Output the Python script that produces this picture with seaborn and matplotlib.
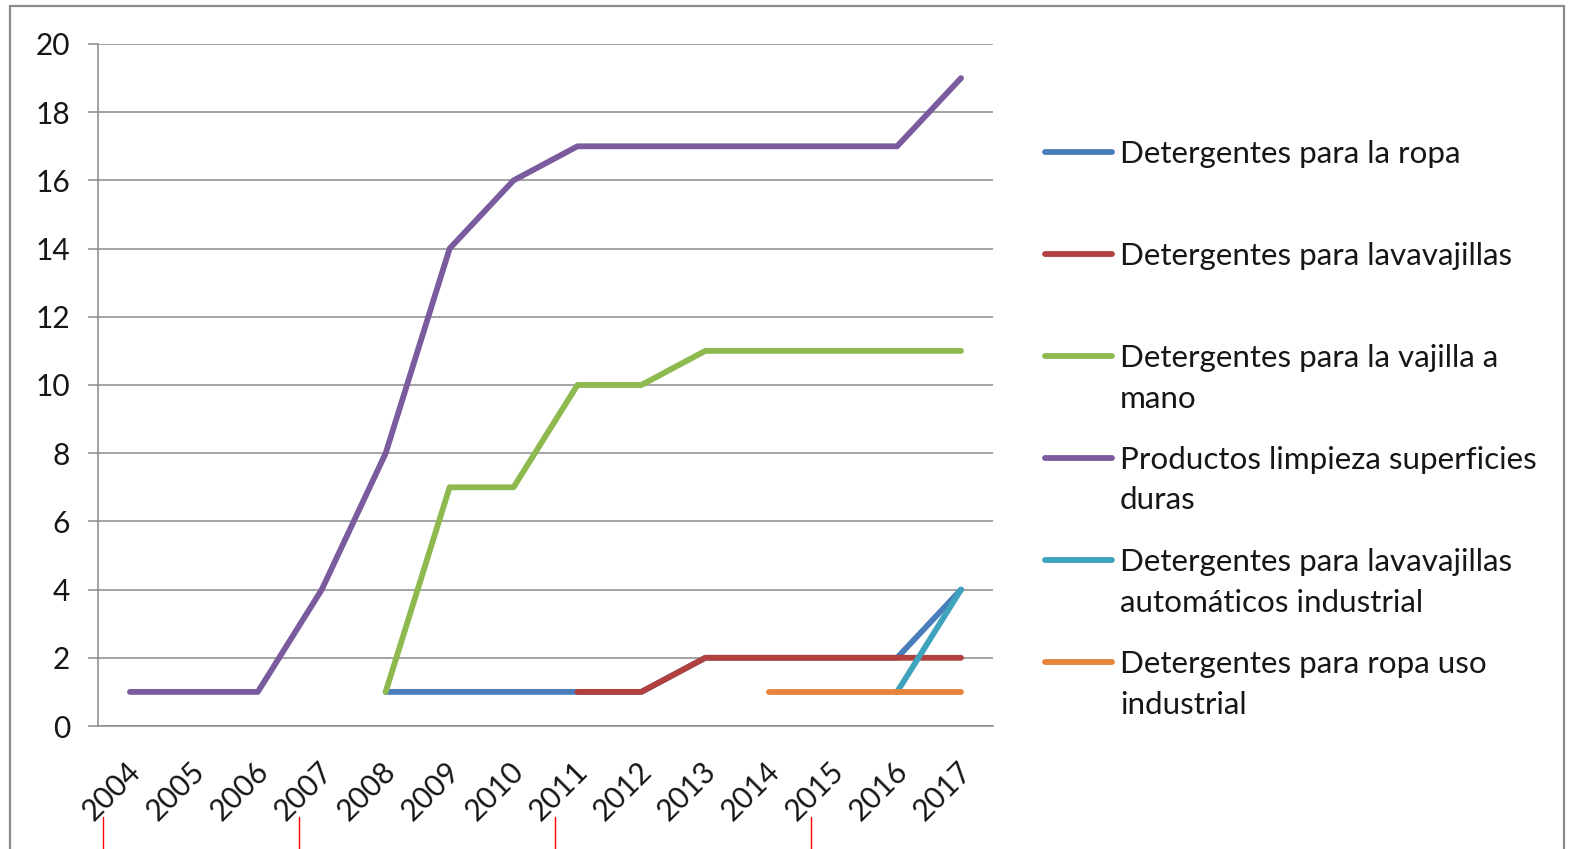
import numpy as np
import pandas as pd
import matplotlib.pyplot as plt
import seaborn as sns
from matplotlib.lines import Line2D
from matplotlib.patches import Rectangle
import matplotlib.transforms as mtransforms

# categories
years = ["2004", "2005", "2006", "2007", "2008", "2009", "2010",
         "2011", "2012", "2013", "2014", "2015", "2016", "2017"]

# series (None = no data that year)
ropa = [None, None, None, None, 1, 1, 1, 1, 1, 2, 2, 2, 2, 4]
lavavajillas = [None, None, None, None, None, None, None, 1, 1, 2, 2, 2, 2, 2]
vajilla_mano = [None, None, None, None, 1, 7, 7, 10, 10, 11, 11, 11, 11, 11]
superficies = [1, 1, 1, 4, 8, 14, 16, 17, 17, 17, 17, 17, 17, 19]
lavav_industrial = [None, None, None, None, None, None, None, None, None, None, None, None, 1, 4]
ropa_industrial = [None, None, None, None, None, None, None, None, None, None, 1, 1, 1, 1]

series_names = [
    "Detergentes para la ropa",
    "Detergentes para lavavajillas",
    "Detergentes para la vajilla a\nmano",
    "Productos limpieza superficies\nduras",
    "Detergentes para lavavajillas\nautomáticos industrial",
    "Detergentes para ropa uso\nindustrial",
]
series_values = [ropa, lavavajillas, vajilla_mano, superficies, lavav_industrial, ropa_industrial]
colors = ["#4A7EBB", "#B0413E", "#8DB94E", "#7A5C9E", "#3FA3BE", "#E5843A"]

rows = []
for name, vals in zip(series_names, series_values):
    for i, v in enumerate(vals):
        if v is not None:
            rows.append({"idx": i, "value": v, "series": name})
df = pd.DataFrame(rows)

sns.set_theme(style="white")
plt.rcParams["font.family"] = ["Lato", "DejaVu Sans"]

W, H = 1575, 849
fig = plt.figure(figsize=(W / 100, H / 100), dpi=100)
ax = fig.add_axes([98 / W, 1 - 726 / H, (993 - 98) / W, (726 - 44) / H])

grid_col = "#8a8a8a"
text_col = "#161616"
ax.set_ylim(0, 20)
ax.set_xlim(-0.5, len(years) - 0.5)
ax.set_yticks(range(0, 21, 2))
ax.yaxis.grid(True, color=grid_col, linewidth=1.1)
ax.set_axisbelow(True)

sns.lineplot(data=df, x="idx", y="value", hue="series", hue_order=series_names,
             palette=colors, linewidth=4.2, legend=False, errorbar=None, sort=False,
             solid_capstyle="round", solid_joinstyle="round", ax=ax)

ax.set_xlabel("")
ax.set_ylabel("")
for s in ["top", "right"]:
    ax.spines[s].set_visible(False)
for s in ["left", "bottom"]:
    ax.spines[s].set_color(grid_col)
    ax.spines[s].set_linewidth(1.1)

ax.set_xticks(range(len(years)))
ax.set_xticklabels(years, rotation=45, ha="right", va="top", rotation_mode="anchor")
ax.set_xticks(np.arange(-0.5, len(years), 1), minor=True)
ax.tick_params(axis="x", which="major", length=0, pad=22, labelsize=21.5, labelcolor=text_col)
ax.tick_params(axis="x", which="minor", length=6, width=1.1, color=grid_col, direction="out")
ax.tick_params(axis="y", length=7.2, width=1.1, color=grid_col, pad=13, labelsize=21.5,
               labelcolor=text_col, left=True)
offset = mtransforms.ScaledTranslation(-4 / 100, 0, fig.dpi_scale_trans)
for lbl in ax.get_xticklabels():
    lbl.set_transform(lbl.get_transform() + offset)

# legend drawn by hand so handles sit on the first text line
for i, (name, col) in enumerate(zip(series_names, colors)):
    y = 152 + 102 * i
    fig.add_artist(Line2D([1045 / W, 1112 / W], [1 - y / H, 1 - y / H], color=col,
                          linewidth=4.2, solid_capstyle="round", transform=fig.transFigure))
    for k, line in enumerate(name.split("\n")):
        fig.text(1120 / W, 1 - (y + 40 * k) / H, line, fontsize=22.6, color=text_col,
                 va="center_baseline", ha="left")

# outer frame and red marks from the source screenshot
fig.add_artist(Rectangle((10 / W, -0.1), (1564 - 10) / W, 1 - 6 / H + 0.1, fill=False,
                         edgecolor="#8c8c8c", linewidth=1.6, transform=fig.transFigure))
for xr in [103, 299, 555, 811]:
    fig.add_artist(Line2D([xr / W, xr / W], [1 - 817 / H, 0], color="red", linewidth=1,
                          transform=fig.transFigure))

fig.savefig("out.png", dpi=100)
